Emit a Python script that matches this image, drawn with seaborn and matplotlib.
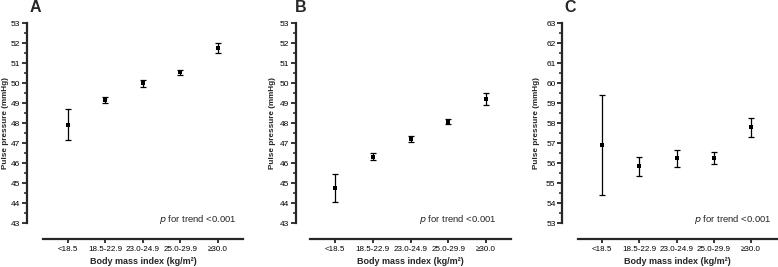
import matplotlib
matplotlib.use("Agg")
import matplotlib.pyplot as plt
import seaborn as sns
import numpy as np
import pandas as pd
from matplotlib.ticker import MultipleLocator

sns.set_style("ticks")
plt.rcParams['font.family'] = ['Liberation Sans', 'DejaVu Sans']

categories = ["<18.5", "18.5-22.9", "23.0-24.9", "25.0-29.9", "≥30.0"]

a_mean = [47.93, 49.19, 50.00, 50.55, 51.75]
a_low = [47.15, 49.04, 49.84, 50.42, 51.50]
a_high = [48.70, 49.33, 50.16, 50.68, 52.00]

b_mean = [44.76, 46.34, 47.21, 48.09, 49.21]
b_low = [44.06, 46.18, 47.06, 47.97, 48.93]
b_high = [45.48, 46.50, 47.37, 48.22, 49.50]

c_mean = [56.92, 55.85, 56.25, 56.27, 57.80]
c_low = [54.41, 55.35, 55.83, 55.97, 57.33]
c_high = [59.42, 56.34, 56.65, 56.57, 58.26]

panels = [
    ("A", a_mean, a_low, a_high, (43, 53)),
    ("B", b_mean, b_low, b_high, (43, 53)),
    ("C", c_mean, c_low, c_high, (53, 63)),
]

W, H = 778, 267
fig = plt.figure(figsize=(W / 100, H / 100), dpi=100)

layout = [
    dict(left=42.7, right=243.3, c0=67.7, c4=217.7, yspine=27.0, letter=35.5, pright=237, ylab=5.5),
    dict(left=310.0, right=511.0, c0=335.0, c4=486.0, yspine=296.0, letter=301.0, pright=497, ylab=272.0),
    dict(left=577.7, right=778.0, c0=602.3, c4=751.0, yspine=562.3, letter=569.7, pright=771.7, ylab=537.0),
]
top_px, bot_px = 23.3, 223.3
xspine_px = 239.0

for (letter, mean, low, high, ylim), L in zip(panels, layout):
    aw = L['right'] - L['left']
    ah = bot_px - top_px
    ax = fig.add_axes([L['left'] / W, 1 - bot_px / H, aw / W, ah / H])
    df = pd.DataFrame({"bmi": categories, "pp": mean, "lo": low, "hi": high})
    yerr = np.array([df.pp - df.lo, df.hi - df.pp])
    ax.errorbar(df.bmi, df.pp, yerr=yerr, fmt='none', ecolor='black', elinewidth=0.9,
                capsize=2.3, capthick=0.9, zorder=2)
    sns.scatterplot(data=df, x="bmi", y="pp", marker='s', s=12, color='black',
                    edgecolor='black', linewidth=0, ax=ax, zorder=3)
    spacing = (L['c4'] - L['c0']) / 4
    ax.set_xlim(-(L['c0'] - L['left']) / spacing, 4 + (L['right'] - L['c4']) / spacing)
    ax.set_ylim(*ylim)
    ax.yaxis.set_major_locator(MultipleLocator(1))
    ax.yaxis.set_minor_locator(MultipleLocator(0.5))
    sns.despine(ax=ax)
    ax.spines['left'].set_position(('outward', (L['left'] - L['yspine']) * 0.72))
    ax.spines['bottom'].set_position(('outward', (xspine_px - bot_px) * 0.72))
    for s in ('left', 'bottom'):
        ax.spines[s].set_linewidth(1.6)
    ax.tick_params(axis='y', which='major', length=3.8, width=1.1, pad=1.0, labelsize=6.0, colors='black')
    ax.tick_params(axis='y', which='minor', length=2.0, width=1.1)
    ax.tick_params(axis='x', length=3.0, width=1.1, pad=2.0, labelsize=5.8, colors='black')
    ax.set_xlabel("Body mass index (kg/m²)", fontsize=6.5, fontweight='bold', labelpad=3)
    ax.set_ylabel("Pulse pressure (mmHg)", fontsize=5.9, fontweight='bold')
    ax.yaxis.label.set_verticalalignment('center')
    ax.yaxis.set_label_coords((L['ylab'] - L['left']) / aw, 0.5)
    ax.text((L['pright'] - L['left']) / aw, (bot_px - 220) / ah,
            r"$\it{p}$ for trend <0.001", transform=ax.transAxes, ha='right', va='center',
            fontsize=6.8)
    fig.text(L['letter'] / W, 1 - 7.5 / H, letter, ha='center', va='center',
             fontsize=11.5, fontweight='bold')

fig.savefig("out.png", dpi=100)
